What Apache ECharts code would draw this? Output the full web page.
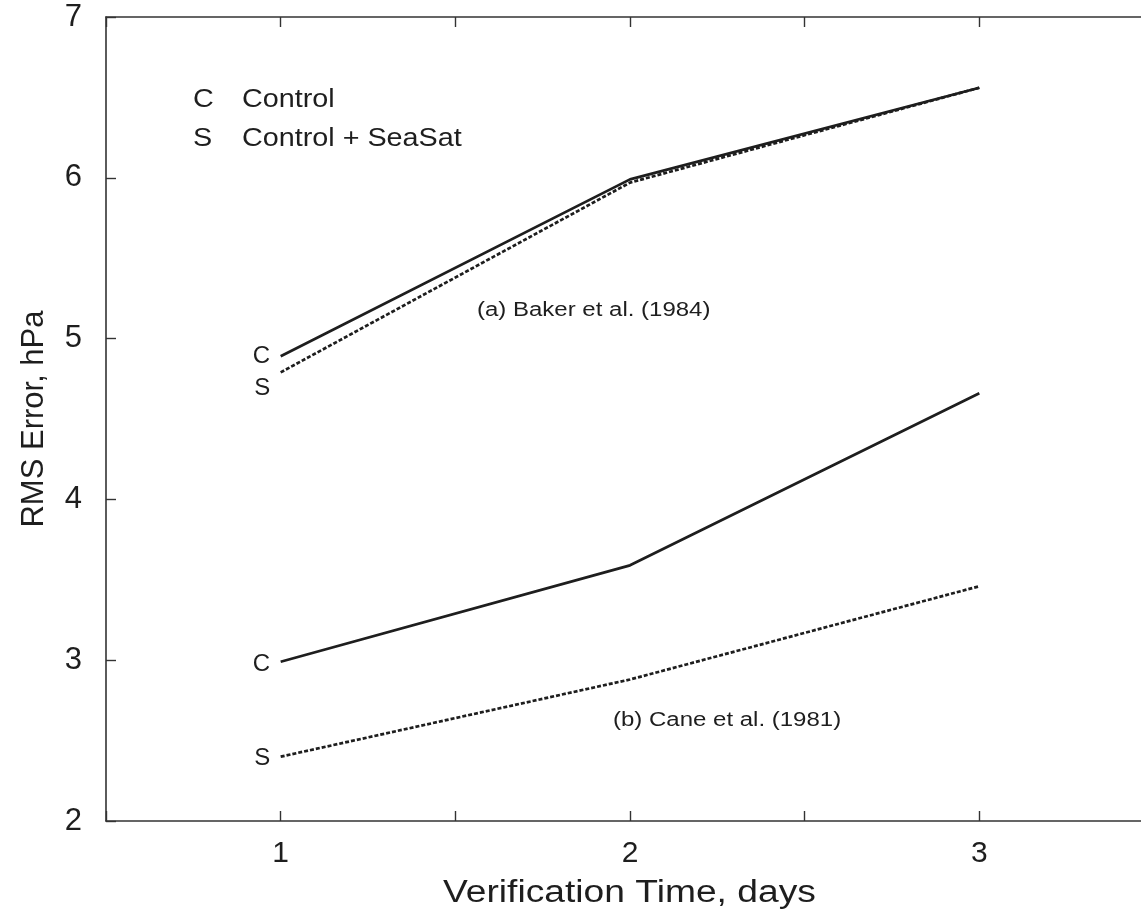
<!DOCTYPE html>
<html>
<head>
<meta charset="utf-8">
<script src="https://cdn.jsdelivr.net/npm/echarts@6/dist/echarts.min.js"></script>
<style>html,body{margin:0;padding:0;background:#fff;overflow:hidden;}#c{width:1141px;height:920px;}</style>
</head>
<body>
<div id="c"></div>
<script>
const days = [1, 2, 3];
const bakerControl = [4.89, 5.99, 6.56];
const bakerSeaSat = [4.79, 5.97, 6.56];
const caneControl = [2.99, 3.59, 4.66];
const caneSeaSat = [2.40, 2.88, 3.46];
const yTicks = [2, 3, 4, 5, 6, 7];
const legendKeys = ['C', 'S'];
const legendNames = ['Control', 'Control + SeaSat'];
const notes = ['(a) Baker et al. (1984)', '(b) Cane et al. (1981)'];
const xTitle = 'Verification Time, days';
const yTitle = 'RMS Error, hPa';

const FONT = '"Liberation Sans", Arial, Helvetica, sans-serif';
const INK = '#1e1e1e';
const pairs = arr => days.map((d, i) => [d, arr[i]]);

function mkSeries(name, arr, dashed, tag, off) {
  return {
    name: name, type: 'line', data: pairs(arr), symbol: 'none', silent: true,
    lineStyle: { color: INK, width: 2.7, type: dashed ? [4, 2] : 'solid' },
    markPoint: {
      symbol: 'circle', symbolSize: 1, itemStyle: { color: 'rgba(0,0,0,0)' },
      label: { show: true, formatter: tag, position: 'left', distance: 10, offset: off,
               color: INK, fontSize: 24, fontFamily: FONT },
      data: [{ coord: [days[0], arr[0]] }]
    },
    z: 3
  };
}

function txt(x, y, s, size, sx, align) {
  return { type: 'text', x: x, y: y, scaleX: sx, originX: 0, z: 10,
    style: { text: s, fill: INK, font: size + 'px ' + FONT, textAlign: align || 'left', textVerticalAlign: 'middle' } };
}

const chart = echarts.init(document.getElementById('c'), null, { renderer: 'canvas' });
chart.setOption({
  backgroundColor: '#fff',
  animation: false,
  grid: { left: 106, top: 17, width: 1048, height: 804, containLabel: false, outerBoundsMode: 'none' },
  xAxis: [{
    type: 'value', min: 0.5, max: 3.5, interval: 0.5, position: 'bottom',
    axisLine: { lineStyle: { color: '#333', width: 1.6 } },
    axisTick: { inside: true, length: 10, lineStyle: { color: '#333', width: 1.4 } },
    axisLabel: { margin: 18, fontSize: 30, color: INK, fontFamily: FONT,
      formatter: v => (Number.isInteger(v) && days.includes(v)) ? String(v) : '' },
    splitLine: { show: false }
  }, {
    type: 'value', min: 0.5, max: 3.5, interval: 0.5, position: 'top',
    axisLine: { show: true, lineStyle: { color: '#333', width: 1.6 } },
    axisTick: { inside: true, length: 10, lineStyle: { color: '#333', width: 1.4 } },
    axisLabel: { show: false }, splitLine: { show: false }
  }],
  yAxis: [{
    type: 'value', min: yTicks[0], max: yTicks[yTicks.length - 1], interval: 1,
    name: yTitle, nameLocation: 'middle', nameGap: 56, nameRotate: 90,
    nameTextStyle: { fontSize: 31, color: INK, fontFamily: FONT },
    axisLine: { show: true, lineStyle: { color: '#333', width: 1.6 } },
    axisTick: { show: true, inside: true, length: 10, lineStyle: { color: '#333', width: 1.4 } },
    axisLabel: { margin: 24, fontSize: 31, color: INK, fontFamily: FONT },
    splitLine: { show: false }
  }],
  series: [
    mkSeries('Baker Control', bakerControl, false, 'C', [0, 0]),
    mkSeries('Baker SeaSat', bakerSeaSat, true, 'S', [0, 16]),
    mkSeries('Cane Control', caneControl, false, 'C', [0, 3]),
    mkSeries('Cane SeaSat', caneSeaSat, true, 'S', [0, 2])
  ],
  graphic: [
    txt(193, 100, legendKeys[0], 25, 1.15),
    txt(242, 100, legendNames[0], 25, 1.15),
    txt(193, 139, legendKeys[1], 25, 1.15),
    txt(242, 139, legendNames[1], 25, 1.15),
    txt(477, 310, notes[0], 20, 1.2),
    txt(613, 720, notes[1], 20, 1.2),
    txt(443, 893, xTitle, 31, 1.2)
  ]
});
</script>
</body>
</html>
